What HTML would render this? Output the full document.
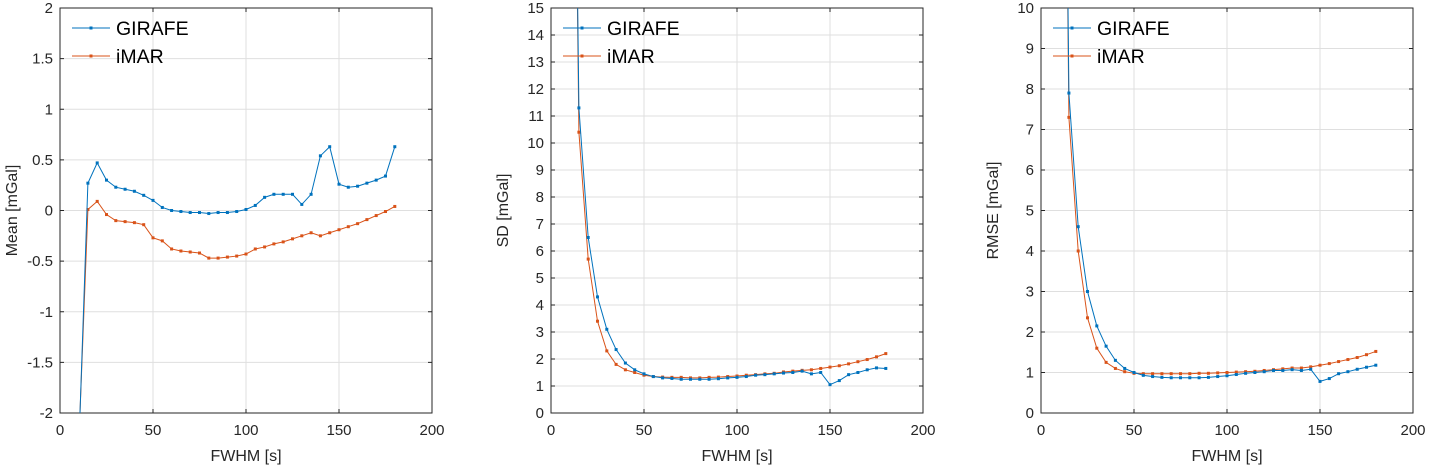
<!DOCTYPE html>
<html><head><meta charset="utf-8">
<style>
html,body{margin:0;padding:0;background:#fff;overflow:hidden;width:1431px;height:466px;font-family:"Liberation Sans",Arial,sans-serif;}
svg{display:block;}
svg text{font-family:"Liberation Sans",Arial,sans-serif;}
</style></head>
<body>
<svg id="chart" width="1431" height="466" viewBox="0 0 1431 466"></svg>
<script>
const fwhm = [10,15,20,25,30,35,40,45,50,55,60,65,70,75,80,85,90,95,100,105,110,115,120,125,130,135,140,145,150,155,160,165,170,175,180];
const meanGirafe = [-2.4,0.27,0.47,0.30,0.23,0.21,0.19,0.15,0.10,0.03,0.00,-0.01,-0.02,-0.02,-0.03,-0.02,-0.02,-0.01,0.01,0.05,0.13,0.16,0.16,0.16,0.06,0.16,0.54,0.63,0.26,0.23,0.24,0.27,0.30,0.34,0.63];
const meanImar = [-2.35,0.01,0.09,-0.04,-0.10,-0.11,-0.12,-0.14,-0.27,-0.30,-0.38,-0.40,-0.41,-0.42,-0.47,-0.47,-0.46,-0.45,-0.43,-0.38,-0.36,-0.33,-0.31,-0.28,-0.25,-0.22,-0.25,-0.22,-0.19,-0.16,-0.13,-0.09,-0.05,-0.01,0.04];
const sdGirafe = [40,11.3,6.5,4.3,3.1,2.35,1.85,1.6,1.45,1.35,1.3,1.28,1.25,1.25,1.25,1.25,1.27,1.3,1.32,1.35,1.4,1.42,1.45,1.48,1.5,1.55,1.45,1.5,1.05,1.2,1.42,1.5,1.6,1.67,1.65];
const sdImar = [40,10.4,5.7,3.4,2.3,1.8,1.6,1.5,1.4,1.35,1.33,1.32,1.32,1.3,1.3,1.32,1.33,1.35,1.37,1.4,1.42,1.45,1.47,1.52,1.55,1.58,1.6,1.65,1.7,1.75,1.82,1.9,1.98,2.08,2.2];
const rmseGirafe = [30,7.9,4.6,3.0,2.15,1.65,1.3,1.1,1.0,0.93,0.9,0.88,0.87,0.87,0.87,0.87,0.88,0.9,0.92,0.95,0.98,1.0,1.02,1.05,1.05,1.07,1.05,1.08,0.78,0.85,0.97,1.02,1.08,1.13,1.18];
const rmseImar = [30,7.3,4.0,2.35,1.6,1.25,1.1,1.02,0.98,0.97,0.97,0.97,0.97,0.97,0.97,0.98,0.98,0.99,1.0,1.01,1.02,1.03,1.05,1.07,1.09,1.11,1.11,1.14,1.18,1.22,1.27,1.32,1.37,1.44,1.52];
const xTicks = [0,50,100,150,200];
const meanTicks = [-2,-1.5,-1,-0.5,0,0.5,1,1.5,2];
const sdTicks = [0,1,2,3,4,5,6,7,8,9,10,11,12,13,14,15];
const rmseTicks = [0,1,2,3,4,5,6,7,8,9,10];

const NS="http://www.w3.org/2000/svg";
const svg=document.getElementById('chart');
function mk(tag,attrs,parent){const e=document.createElementNS(NS,tag);for(const k in attrs)e.setAttribute(k,attrs[k]);(parent||svg).appendChild(e);return e;}

function panel(id,left,ymin,ymax,yticks,ylabel,g,im){
  const right=left+372, top=8, bottom=413;
  const xs=v=>left+(v-0)/200*(right-left);
  const ys=v=>bottom-(v-ymin)/(ymax-ymin)*(bottom-top);
  const grp=mk('g',{});
  
  
  const cp=mk('clipPath',{id:id+'-clip'},grp);
  mk('rect',{x:left,y:top,width:right-left,height:bottom-top},cp);
  xTicks.forEach(t=>{
    const l=mk('line',{x1:xs(t),x2:xs(t),y1:top,y2:bottom,stroke:'#dfdfdf','stroke-width':1},grp);
    
    
    mk('line',{x1:xs(t),x2:xs(t),y1:bottom,y2:bottom-4,stroke:'#262626'},grp);
    mk('line',{x1:xs(t),x2:xs(t),y1:top,y2:top+4,stroke:'#262626'},grp);
    const tx=mk('text',{x:xs(t),y:bottom+22,'text-anchor':'middle','font-size':15,fill:'#262626'},grp);
    tx.textContent=t;
    
    
  });
  yticks.forEach(t=>{
    const l=mk('line',{x1:left,x2:right,y1:ys(t),y2:ys(t),stroke:'#dfdfdf','stroke-width':1},grp);
    
    
    mk('line',{x1:left,x2:left+4,y1:ys(t),y2:ys(t),stroke:'#262626'},grp);
    mk('line',{x1:right,x2:right-4,y1:ys(t),y2:ys(t),stroke:'#262626'},grp);
    const tx=mk('text',{x:left-7,y:ys(t)+5,'text-anchor':'end','font-size':15,fill:'#262626'},grp);
    tx.textContent=t;
    
    
  });
  const box=mk('rect',{x:left,y:top,width:right-left,height:bottom-top,fill:'none',stroke:'#262626','stroke-width':1},grp);
  
  
  const xl=mk('text',{x:(left+right)/2,y:461,'text-anchor':'middle','font-size':16,fill:'#262626'},grp);
  xl.textContent='FWHM [s]';
  
  
  const yl=mk('text',{x:0,y:0,'text-anchor':'middle','font-size':16,fill:'#262626',transform:`translate(${left-43},${(top+bottom)/2}) rotate(-90)`},grp);
  yl.textContent=ylabel;
  
  
  [[im,'#d95319','imar'],[g,'#0072bd','girafe']].forEach(([arr,col,nm])=>{
    const sg=mk('g',{'clip-path':`url(#${id}-clip)`},grp);
    
    
    const pts=fwhm.map((x,i)=>xs(x)+','+ys(arr[i])).join(' ');
    mk('polyline',{points:pts,fill:'none',stroke:col,'stroke-width':1},sg);
    fwhm.forEach((x,i)=>{
      const c=mk('rect',{x:xs(x)-1.5,y:ys(arr[i])-1.5,width:3,height:3,fill:col},sg);
      
      
    });
  });
  [['GIRAFE','#0072bd',28],['iMAR','#d95319',56]].forEach(([lab,col,yy])=>{
    const lg=mk('g',{},grp);
    
    
    mk('line',{x1:left+12,x2:left+50,y1:yy,y2:yy,stroke:col,'stroke-width':1},lg);
    mk('rect',{x:left+29.5,y:yy-1.5,width:3,height:3,fill:col},lg);
    const t=mk('text',{x:left+56,y:yy+7,'font-size':19.5,fill:'#000'},lg);
    t.textContent=lab;
  });
}
panel('mean',60,-2,2,meanTicks,'Mean [mGal]',meanGirafe,meanImar);
panel('sd',551,0,15,sdTicks,'SD [mGal]',sdGirafe,sdImar);
panel('rmse',1041,0,10,rmseTicks,'RMSE [mGal]',rmseGirafe,rmseImar);
</script>
</body></html>
